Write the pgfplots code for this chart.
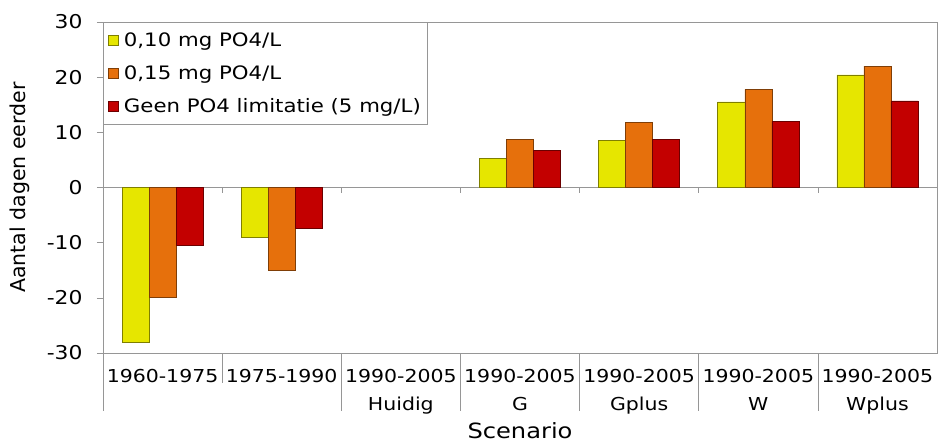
\documentclass[border=0pt]{standalone}
\usepackage{fontspec}
\setmainfont[FakeStretch=1.15]{DejaVu Sans}
\newfontfamily\ylabfont{DejaVu Sans}
\usepackage{pgfplots}
\pgfplotsset{compat=1.18}
\usetikzlibrary{calc}
\definecolor{cyel}{RGB}{230,230,0}
\definecolor{cora}{RGB}{230,112,12}
\definecolor{cred}{RGB}{195,0,0}
\definecolor{cframe}{RGB}{150,150,150}
\pgfplotsset{sqlegend/.style={legend image code/.code={\draw[##1,line width=0.6pt] (0pt,-5pt) rectangle (10pt,5pt);}}}
\begin{document}
\begin{tikzpicture}
\begin{axis}[
  scale only axis, width=834pt, height=331pt,
  ybar=0pt, bar width=0.227,
  xmin=-0.5, xmax=6.5, ymin=-30, ymax=30,
  ytick={-30,-20,...,30},
  ytick pos=left, tick align=outside,
  major tick length=6pt,
  ytick style={draw=cframe, line width=0.6pt},
  xtick={0,...,6},
  xticklabels={{1960-1975},{1975-1990},{1990-2005\\Huidig},{1990-2005\\G},{1990-2005\\Gplus},{1990-2005\\W},{1990-2005\\Wplus}},
  major x tick style={draw=none},
  xticklabel style={align=center, anchor=north, font=\fontsize{17.8}{28}\selectfont, yshift=-7pt},
  yticklabel style={font=\fontsize{19}{21}\selectfont, xshift=-11pt},
  /pgf/number format/assume math mode=true,
  axis line style={cframe, line width=0.7pt},
  clip=false,
  ylabel={\ylabfont\fontsize{20.5}{22}\selectfont Aantal dagen eerder},
  every axis y label/.style={at={(rel axis cs:0,0.5)}, rotate=90, anchor=center, yshift=83pt},
  xlabel={\fontsize{21}{23}\selectfont Scenario},
  every axis x label/.style={at={(rel axis cs:0.5,0)}, anchor=center, yshift=-78pt},
  legend style={at={(rel axis cs:0,1)}, anchor=north west, draw=cframe, line width=0.7pt, fill=white,
    font=\fontsize{18.5}{20}\selectfont, row sep=14pt, inner xsep=5pt, inner ysep=8pt,
    /tikz/every odd column/.append style={column sep=3pt},
    legend cell align=left},
]
\draw[cframe, line width=0.7pt] (axis cs:-0.5,0) -- (axis cs:6.5,0);
\pgfplotsinvokeforeach{0.5,1.5,2.5,3.5,4.5,5.5}{\draw[cframe, line width=0.6pt] (axis cs:#1,0) -- ++(0pt,-5pt);}
\pgfplotsinvokeforeach{-0.5,1.5,2.5,3.5,4.5,5.5}{\draw[cframe, line width=0.7pt] (axis cs:#1,-30) -- ++(0pt,-58pt);}
\draw[cframe, line width=0.7pt] (axis cs:0.5,-30) -- ++(0pt,-30pt);
\addplot[fill=cyel, draw=cyel!55!black, line width=0.5pt, sqlegend] coordinates {(0,-28.1) (1,-9.0) (3,5.3) (4,8.5) (5,15.5) (6,20.4)};
\addplot[fill=cora, draw=cora!55!black, line width=0.5pt, sqlegend] coordinates {(0,-19.9) (1,-15.0) (3,8.7) (4,11.8) (5,17.8) (6,22.0)};
\addplot[fill=cred, draw=cred!55!black, line width=0.5pt, sqlegend] coordinates {(0,-10.5) (1,-7.4) (3,6.7) (4,8.7) (5,12.0) (6,15.7)};
\legend{{0,10 mg PO4/L},{0,15 mg PO4/L},{Geen PO4 limitatie (5 mg/L)}}
\coordinate (SW) at (rel axis cs:0,0);
\coordinate (NE) at (rel axis cs:1,1);
\end{axis}
\pgfresetboundingbox
\path[use as bounding box] ($(SW)+(-103pt,-89pt)$) rectangle ($(NE)+(1pt,22pt)$);
\end{tikzpicture}
\end{document}
